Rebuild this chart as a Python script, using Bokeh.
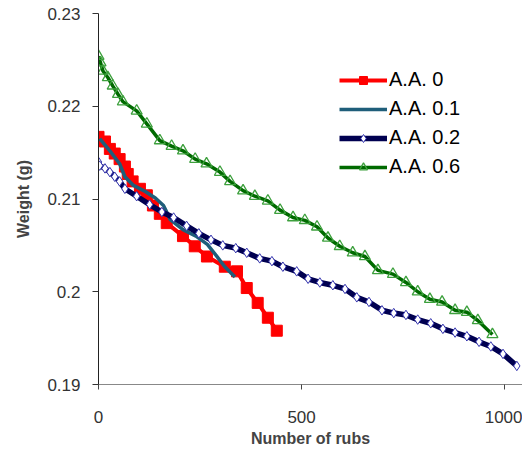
from bokeh.plotting import figure
from bokeh.models import Range1d, FixedTicker, Legend, LegendItem
from bokeh.embed import file_html
from bokeh.resources import INLINE

# ---- data ----
aa0_x = [0, 16, 28, 40, 52, 65, 72, 84, 102, 119, 134, 151, 168, 208, 237, 267, 311, 341, 365, 392, 417, 439]
aa0_y = [0.2167, 0.2162, 0.2154, 0.2149, 0.2143, 0.2135, 0.2127, 0.2119, 0.2111, 0.2104, 0.2093, 0.2084,
         0.2074, 0.2060, 0.2049, 0.2038, 0.2027, 0.2022, 0.2004, 0.1988, 0.1972, 0.1958]

aa01_x = [3, 28, 52, 65, 85, 115, 140, 160, 168, 176, 208, 240, 268, 290, 311, 336]
aa01_y = [0.2165, 0.2152, 0.2138, 0.2124, 0.2115, 0.2108, 0.2101, 0.2093, 0.2086, 0.2078, 0.2067,
          0.2060, 0.2051, 0.2039, 0.2027, 0.2016]

aa02_x = [0, 3, 16, 28, 40, 52, 65, 94, 126, 156, 185, 217, 247, 277, 306, 338, 365, 397, 427, 454,
          488, 516, 545, 577, 607, 636, 666, 698, 727, 757, 786, 818, 848, 878, 907, 937, 966, 996, 1030]
aa02_y = [0.2140, 0.2136, 0.2133, 0.2129, 0.2124, 0.2119, 0.2111, 0.2103, 0.2094, 0.2086, 0.2080,
          0.2071, 0.2063, 0.2056, 0.2050, 0.2047, 0.2042, 0.2036, 0.2033, 0.2027, 0.2022, 0.2014,
          0.2010, 0.2007, 0.2003, 0.1994, 0.1989, 0.1980, 0.1977, 0.1975, 0.1970, 0.1966, 0.1960,
          0.1956, 0.1952, 0.1946, 0.1941, 0.1933, 0.1920]

aa06_x = [0, 5, 11, 23, 35, 48, 60, 94, 119, 151, 180, 208, 238, 266, 299, 324, 356, 385, 417, 447,
          479, 508, 538, 565, 594, 626, 656, 688, 725, 757, 786, 816, 846, 878, 907, 934, 970]
aa06_y = [0.2254, 0.2247, 0.2238, 0.2231, 0.2222, 0.2213, 0.2205, 0.2195, 0.2181, 0.2163, 0.2157,
          0.2152, 0.2143, 0.2138, 0.2129, 0.2119, 0.2109, 0.2103, 0.2098, 0.2088, 0.2080, 0.2077,
          0.2070, 0.2058, 0.2049, 0.2042, 0.2038, 0.2023, 0.2019, 0.2010, 0.2000, 0.1992, 0.1989,
          0.1980, 0.1978, 0.1969, 0.1954]

series_labels = ["A.A. 0", "A.A. 0.1", "A.A. 0.2", "A.A. 0.6"]
x_ticks = [0, 500, 1000]
y_ticks = [0.19, 0.20, 0.21, 0.22, 0.23]
y_tick_labels = ["0.19", "0.2", "0.21", "0.22", "0.23"]
x_title = "Number of rubs"
y_title = "Weight (g)"

FONT = "Liberation Sans"

p = figure(width=522, height=449, output_backend="svg", toolbar_location=None,
           x_range=Range1d(0, 1044), y_range=Range1d(0.19, 0.23),
           min_border_left=98, min_border_right=0, min_border_top=13, min_border_bottom=63)
p.outline_line_color = None
p.xgrid.visible = False
p.ygrid.visible = False
p.background_fill_color = "white"
p.border_fill_color = "white"

# series
r0l = p.line(aa0_x, aa0_y, line_color="#FF0000", line_width=4)
r0m = p.scatter(aa0_x, aa0_y, marker="square", size=11, fill_color="#FF0000", line_color="#FF0000")
r1l = p.line(aa01_x, aa01_y, line_color="#1F5E7A", line_width=3.5)
r2l = p.line(aa02_x, aa02_y, line_color="#000050", line_width=5.5)
r2m = p.scatter(aa02_x, aa02_y, marker="diamond", size=9.5, fill_color="white",
                line_color="#3535B0", line_width=1)
r3l = p.line(aa06_x, aa06_y, line_color="#006A00", line_width=3.5)
r3m = p.scatter(aa06_x, aa06_y, marker="triangle", size=11, fill_alpha=0,
                line_color="#3DA03D", line_width=1.3)

# axes
xa = p.xaxis[0]
xa.ticker = FixedTicker(ticks=x_ticks)
xa.axis_line_color = "#888888"
xa.major_tick_line_color = "#444444"
xa.major_tick_out = 5
xa.major_tick_in = 0
xa.minor_tick_line_color = None
xa.major_label_text_font = FONT
xa.major_label_text_font_size = "17px"
xa.major_label_text_color = "#333333"
xa.major_label_standoff = 21
xa.axis_label = x_title
xa.axis_label_text_font = FONT
xa.axis_label_text_font_style = "bold"
xa.axis_label_text_font_size = "16px"
xa.axis_label_standoff = 4

ya = p.yaxis[0]
ya.ticker = FixedTicker(ticks=y_ticks)
ya.major_label_overrides = {t: l for t, l in zip(y_ticks, y_tick_labels)}
ya.axis_line_color = "#222222"
ya.major_tick_line_color = "#333333"
ya.major_tick_out = 6
ya.major_tick_in = 0
ya.minor_tick_line_color = None
ya.major_label_text_font = FONT
ya.major_label_text_font_size = "17px"
ya.major_label_text_color = "#333333"
ya.major_label_standoff = 12
ya.axis_label = y_title
ya.axis_label_text_font = FONT
ya.axis_label_text_font_style = "bold"
ya.axis_label_text_font_size = "16px"
ya.axis_label_standoff = 12

legend = Legend(items=[
    LegendItem(label=series_labels[0], renderers=[r0l, r0m]),
    LegendItem(label=series_labels[1], renderers=[r1l]),
    LegendItem(label=series_labels[2], renderers=[r2l, r2m]),
    LegendItem(label=series_labels[3], renderers=[r3l, r3m]),
], location=(241, 206))
legend.background_fill_alpha = 0
legend.border_line_color = None
legend.padding = 0
legend.margin = 0
legend.spacing = 6
legend.glyph_width = 48
legend.glyph_height = 20
legend.label_height = 20
legend.label_standoff = 2
legend.label_text_font = FONT
legend.label_text_font_size = "20px"
legend.label_text_color = "#000000"
p.add_layout(legend, "center")

open("out.html", "w").write(file_html(p, INLINE))
